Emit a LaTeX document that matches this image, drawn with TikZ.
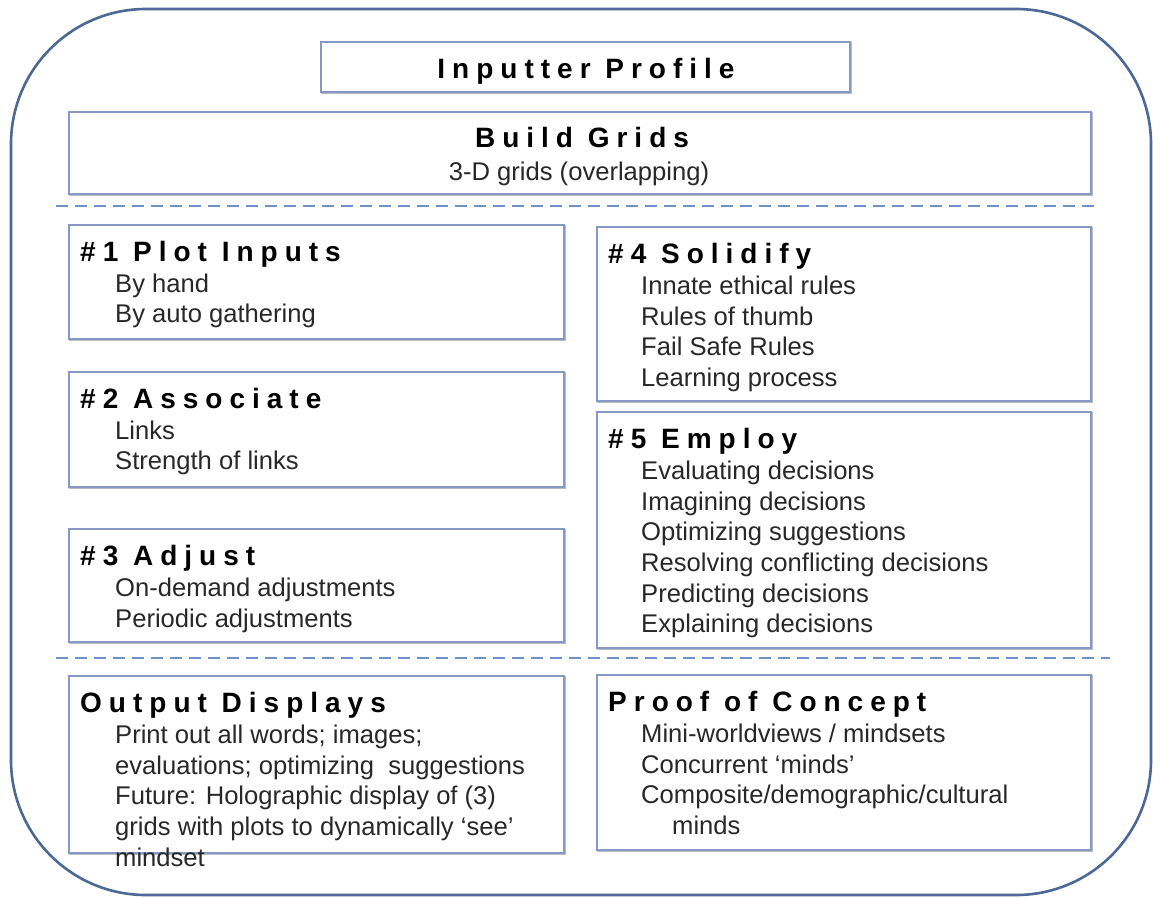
\documentclass[tikz,border=0pt]{standalone}
\usepackage{fontspec}
\setmainfont{Liberation Sans}
\newfontfamily\hfont[LetterSpace=25]{Liberation Sans}
\definecolor{outerc}{RGB}{75,105,148}
\definecolor{boxc}{RGB}{135,152,198}
\definecolor{shadc}{RGB}{185,188,195}
\definecolor{dashc}{RGB}{112,145,195}
\definecolor{txtc}{RGB}{40,40,40}
\begin{document}
\begin{tikzpicture}[x=1pt,y=-1pt,
  box/.style={draw=boxc,line width=1.6pt,fill=white,inner sep=0pt,anchor=north west,
    preaction={draw=shadc,line width=1.6pt,transform canvas={shift={(1.2pt,-1.2pt)}}}},
  head/.style={inner sep=0pt,anchor=base west,font=\hfont\bfseries\fontsize{28}{32}\selectfont},
  chead/.style={inner sep=0pt,anchor=base,font=\hfont\bfseries\fontsize{28}{32}\selectfont},
  body/.style={inner sep=0pt,anchor=base west,text=txtc,font=\fontsize{25.6}{30.7}\selectfont},
  cbody/.style={inner sep=0pt,anchor=base,text=txtc,font=\fontsize{25.6}{30.7}\selectfont},
  sep/.style={draw=dashc,line width=2.6pt,dash pattern=on 12pt off 7pt}]
\useasboundingbox (0,0) rectangle (1153,897);
\draw[outerc,line width=2.6pt,rounded corners=135pt] (11,9) rectangle (1151,895);

% top boxes
\node[box,minimum width=529,minimum height=50] (prof) at (320,41) {};
\node[chead] (proft) at (586,78) {Inputter Profile};
\node[box,minimum width=1022,minimum height=82] (grid) at (68,111) {};
\node[chead] (gridt) at (582,147) {Build Grids};
\node[cbody] (grids) at (579,180) {3-D grids (overlapping)};

\coordinate (d1a) at (56,206);
\coordinate (d1b) at (1100,206);
\draw[sep] (d1a) -- (d1b);

% left column
\node[box,minimum width=495,minimum height=114] (b1) at (68,224) {};
\node[head] (b1h) at (80,261) {\#1 Plot Inputs};
\node[body] (b1a) at (115,292) {By hand};
\node[body] (b1b) at (115,322) {By auto gathering};

\node[box,minimum width=495,minimum height=115] (b2) at (68,371) {};
\node[head] (b2h) at (80,408) {\#2 Associate};
\node[body] (b2a) at (115,439) {Links};
\node[body] (b2b) at (115,469) {Strength of links};

\node[box,minimum width=495,minimum height=113] (b3) at (68,528) {};
\node[head] (b3h) at (80,565) {\#3 Adjust};
\node[body] (b3a) at (115,596) {On-demand adjustments};
\node[body] (b3b) at (115,627) {Periodic adjustments};

% right column
\node[box,minimum width=494,minimum height=174] (b4) at (596,226) {};
\node[head] (b4h) at (608,263) {\#4 Solidify};
\node[body] (b4a) at (641,294) {Innate ethical rules};
\node[body] (b4b) at (641,325) {Rules of thumb};
\node[body] (b4c) at (641,355) {Fail Safe Rules};
\node[body] (b4d) at (641,386) {Learning process};

\node[box,minimum width=494,minimum height=236] (b5) at (596,411) {};
\node[head] (b5h) at (608,448) {\#5 Employ};
\node[body] (b5a) at (641,479) {Evaluating decisions};
\node[body] (b5b) at (641,510) {Imagining decisions};
\node[body] (b5c) at (641,540) {Optimizing suggestions};
\node[body] (b5d) at (641,571) {Resolving conflicting decisions};
\node[body] (b5e) at (641,602) {Predicting decisions};
\node[body] (b5f) at (641,632) {Explaining decisions};

\coordinate (d2a) at (56,658);
\coordinate (d2b) at (1110,658);
\draw[sep] (d2a) -- (d2b);

% bottom
\node[box,minimum width=495,minimum height=177] (b6) at (68,675) {};
\node[head] (b6h) at (80,712) {Output Displays};
\node[body] (b6a) at (115,743) {Print out all words; images;};
\node[body] (b6b) at (115,774) {evaluations; optimizing\ \ suggestions};
\node[body] (b6c) at (115,804) {Future: Holographic display of (3)};
\node[body] (b6d) at (115,835) {grids with plots to dynamically ‘see’};
\node[body] (b6e) at (115,866) {mindset};

\node[box,minimum width=494,minimum height=175] (b7) at (596,674) {};
\node[head] (b7h) at (608,711) {Proof of Concept};
\node[body] (b7a) at (641,742) {Mini-worldviews / mindsets};
\node[body] (b7b) at (641,773) {Concurrent ‘minds’};
\node[body] (b7c) at (641,803) {Composite/demographic/cultural};
\node[body] (b7d) at (672,834) {minds};
\end{tikzpicture}
\end{document}
